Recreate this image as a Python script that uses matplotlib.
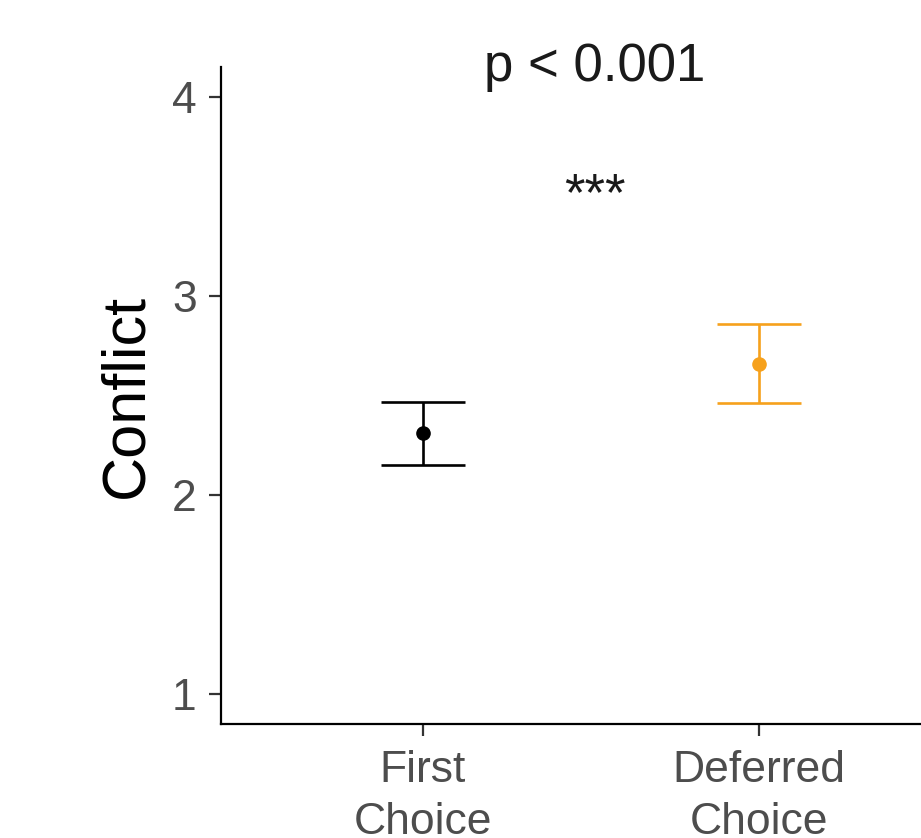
import matplotlib
matplotlib.use("Agg")
import matplotlib.pyplot as plt

plt.rcParams['font.family'] = ['Liberation Sans', 'DejaVu Sans']

# data
conditions = ['First\nChoice', 'Deferred\nChoice']
means = [2.31, 2.66]
lower = [2.15, 2.46]
upper = [2.47, 2.86]
colors = ['#000000', '#F6A11C']
p_label = 'p < 0.001'
stars = '***'

fig = plt.figure(figsize=(9.21, 8.38), dpi=100)
ax = fig.add_axes([0.240, 0.136, 0.8035, 0.784])

x = [1, 2]
for xi, m, lo, hi, c in zip(x, means, lower, upper, colors):
    ax.errorbar(xi, m, yerr=[[m - lo], [hi - m]], fmt='o', color=c,
                ecolor=c, elinewidth=1.9, capsize=30, capthick=1.9,
                markersize=9.5, zorder=3)

ax.set_xlim(0.4, 2.6)
ax.set_ylim(0.85, 4.15)
ax.set_xticks(x)
ax.set_xticklabels(conditions, linespacing=1.35)
ax.set_yticks([1, 2, 3, 4])

for s in ['top', 'right']:
    ax.spines[s].set_visible(False)
for s in ['left', 'bottom']:
    ax.spines[s].set_linewidth(1.6)

ax.tick_params(axis='both', length=8.5, width=1.6, color='#333333',
               labelsize=32, labelcolor='#4D4D4D')
ax.tick_params(axis='y', pad=9)
ax.tick_params(axis='x', pad=10)
ax.set_ylabel('Conflict', fontsize=44, labelpad=12)

ax.text(1.51, 3.50, stars, ha='center', va='center', fontsize=38, color='#1a1a1a')
ax.text(1.51, 4.15, p_label, ha='center', va='center', fontsize=38,
        color='#1a1a1a', clip_on=False)

fig.savefig('out.png', dpi=100)
